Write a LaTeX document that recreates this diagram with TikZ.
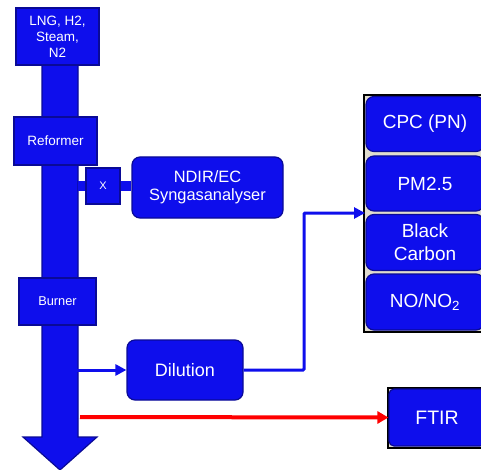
\documentclass[tikz,border=0pt]{standalone}
\usepackage{fontspec}
\setmainfont{Liberation Sans}
\usetikzlibrary{arrows.meta, positioning}
\definecolor{boxblue}{RGB}{14,14,236}
\definecolor{edgeblue}{RGB}{10,10,150}
\definecolor{panelgrey}{RGB}{224,220,206}

\tikzset{
  unit/.style={draw=edgeblue, line width=1.2pt, fill=boxblue, text=white,
    align=center, inner sep=0pt},
  roundunit/.style={unit, rounded corners=8pt},
  flow/.style={boxblue, line width=3pt, -{Triangle[length=11pt, width=11pt]}},
  bar/.style={boxblue, line width=10pt},
  panel/.style={draw=black, line width=2pt, fill=panelgrey}
}

\begin{document}
\begin{tikzpicture}[x=1pt, y=-1pt]
  \useasboundingbox (0,0) rectangle (481,470);

  % main gas line
  \draw[draw=edgeblue, line width=1.2pt, fill=boxblue]
    (42,60) -- (78,60) -- (78,437) -- (97,437) -- (60,470)
    -- (23,437) -- (42,437) -- cycle;
  \coordinate (shaft) at (78,186);
  \coordinate (tap) at (45,370);
  \coordinate (redtap) at (80,417);

  % units on the line
  \node[unit, minimum width=83pt, minimum height=57pt, font=\fontsize{13.5}{16}\selectfont]
    (feed) at (57.5,36.5) {LNG, H2,\\Steam,\\N2};
  \node[unit, minimum width=83pt, minimum height=48pt, font=\fontsize{13.5}{15}\selectfont]
    (reformer) at (55.5,141) {Reformer};
  \node[unit, minimum width=77pt, minimum height=47pt, font=\fontsize{12.8}{14}\selectfont]
    (burner) at (57.5,301.5) {Burner};

  % syngas branch
  \node[unit, minimum width=34pt, minimum height=36pt, font=\fontsize{11}{12}\selectfont]
    (valve) at (103,186) {X};
  \node[roundunit, minimum width=151pt, minimum height=61pt, font=\fontsize{16.4}{18}\selectfont]
    (ndir) at (207.5,187.5) {NDIR/EC\\Syngasanalyser};
  \draw[bar] (shaft) -- (valve.west);
  \draw[bar] (valve.east) -- (ndir.west |- valve.east);

  % exhaust branch
  \node[roundunit, minimum width=116pt, minimum height=60pt, font=\fontsize{18}{20}\selectfont]
    (dilution) at (185,370) {Dilution};
  \draw[flow] (tap) -- (dilution.west);

  % instrument rack
  \draw[panel] (364,95) rectangle (486,332);
  \node[roundunit, minimum width=118pt, minimum height=55pt, font=\fontsize{19}{21}\selectfont]
    (cpc) at (425,124) {CPC (PN)};
  \node[roundunit, minimum width=118pt, minimum height=55pt, font=\fontsize{19}{21}\selectfont]
    (pm) at (425,183.5) {PM2.5};
  \node[roundunit, minimum width=118pt, minimum height=56pt, font=\fontsize{19}{23}\selectfont]
    (bc) at (425,242.5) {Black\\Carbon};
  \node[roundunit, minimum width=118pt, minimum height=56pt, font=\fontsize{19}{21}\selectfont]
    (nox) at (425,302) {NO/NO\textsubscript{2}};
  \coordinate (rackin) at (365,213);
  \draw[flow, rounded corners=1pt] (dilution.east) -- (304,370) -- (304,213) -- (rackin);

  % FTIR
  \draw[panel] (387.5,387.5) rectangle (486,447.5);
  \node[roundunit, rounded corners=5pt, minimum width=96pt, minimum height=57pt,
    font=\fontsize{19.5}{21}\selectfont] (ftir) at (437,417.5) {FTIR};
  \draw[red, line width=4pt, -{Triangle[length=11pt, width=12pt]}] (redtap) -- (ftir.west);
\end{tikzpicture}
\end{document}
